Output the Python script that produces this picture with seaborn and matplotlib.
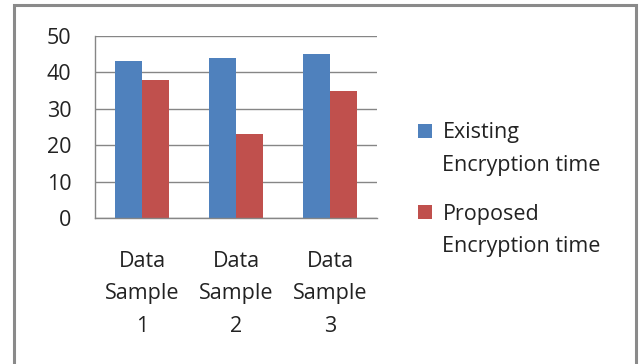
import numpy as np
import pandas as pd
import seaborn as sns
import matplotlib
matplotlib.use("Agg")
import matplotlib.pyplot as plt
from matplotlib.patches import Rectangle
from matplotlib.legend_handler import HandlerPatch

# chart data
samples = ["Data\nSample\n1", "Data\nSample\n2", "Data\nSample\n3"]
existing = [43, 44, 45]
proposed = [38, 23, 35]
series_names = ["Existing\nEncryption time", "Proposed\nEncryption time"]
colors = ["#4F81BD", "#C0504D"]
y_ticks = [0, 10, 20, 30, 40, 50]

df = pd.DataFrame({
    "sample": samples * 2,
    "value": existing + proposed,
    "series": [series_names[0]] * 3 + [series_names[1]] * 3,
})

sns.set_style("white")
plt.rcParams["font.family"] = ["Open Sans", "DejaVu Sans"]
FS = 15.5
TXT = "#222222"

W, H = 639, 364
fig = plt.figure(figsize=(W / 100, H / 100), dpi=100)
ax = fig.add_axes([95 / W, 1 - 218 / H, (377 - 95) / W, (218 - 36) / H])

sns.barplot(data=df, x="sample", y="value", hue="series", palette=colors,
            width=0.565, saturation=1, ax=ax, edgecolor="none")

grid_c = "#868686"
ax.set_ylim(0, 50)
ax.set_xlim(-0.5, 2.5)
ax.set_yticks(y_ticks)
ax.yaxis.grid(True, color=grid_c, linewidth=1)
ax.set_axisbelow(True)
for s in ["top", "right"]:
    ax.spines[s].set_visible(False)
for s in ["left", "bottom"]:
    ax.spines[s].set_color(grid_c)
    ax.spines[s].set_linewidth(1)

ax.set_xlabel("")
ax.set_ylabel("")
ax.tick_params(axis="y", length=5, color=grid_c, width=1, pad=12,
               labelsize=FS, labelcolor=TXT)
ax.set_xticks(range(len(samples)), samples, linespacing=1.72)
ax.tick_params(axis="x", which="major", length=0, pad=23.5,
               labelsize=FS, labelcolor=TXT)
ax.set_xticks([-0.5, 0.5, 1.5, 2.5], minor=True)
ax.tick_params(axis="x", which="minor", length=6, color=grid_c, width=1)


# legend square sits on the first line of each two-line label
def top_square(legend, orig_handle, xdescent, ydescent, width, height, fontsize):
    return Rectangle((-xdescent, -ydescent + 0.88 * fontsize), width, height)


handles, labels = ax.get_legend_handles_labels()
leg = ax.legend(handles, labels, loc="upper left",
                bbox_to_anchor=(399 / W, 1 - 103 / H),
                bbox_transform=fig.transFigure, frameon=False,
                fontsize=FS, handlelength=0.62, handleheight=0.62,
                handletextpad=0.5, labelspacing=1.3,
                handler_map={h: HandlerPatch(patch_func=top_square) for h in handles})
for t in leg.get_texts():
    t.set_color(TXT)
    t.set_linespacing(1.72)

# outer chart border
fig.add_artist(Rectangle((13.5 / W, -0.05), (636 - 13.5) / W, 1.05 - 5 / H,
                         transform=fig.transFigure, fill=False,
                         edgecolor="#8a8a8a", linewidth=2.2))

fig.savefig("out.png", dpi=100)
